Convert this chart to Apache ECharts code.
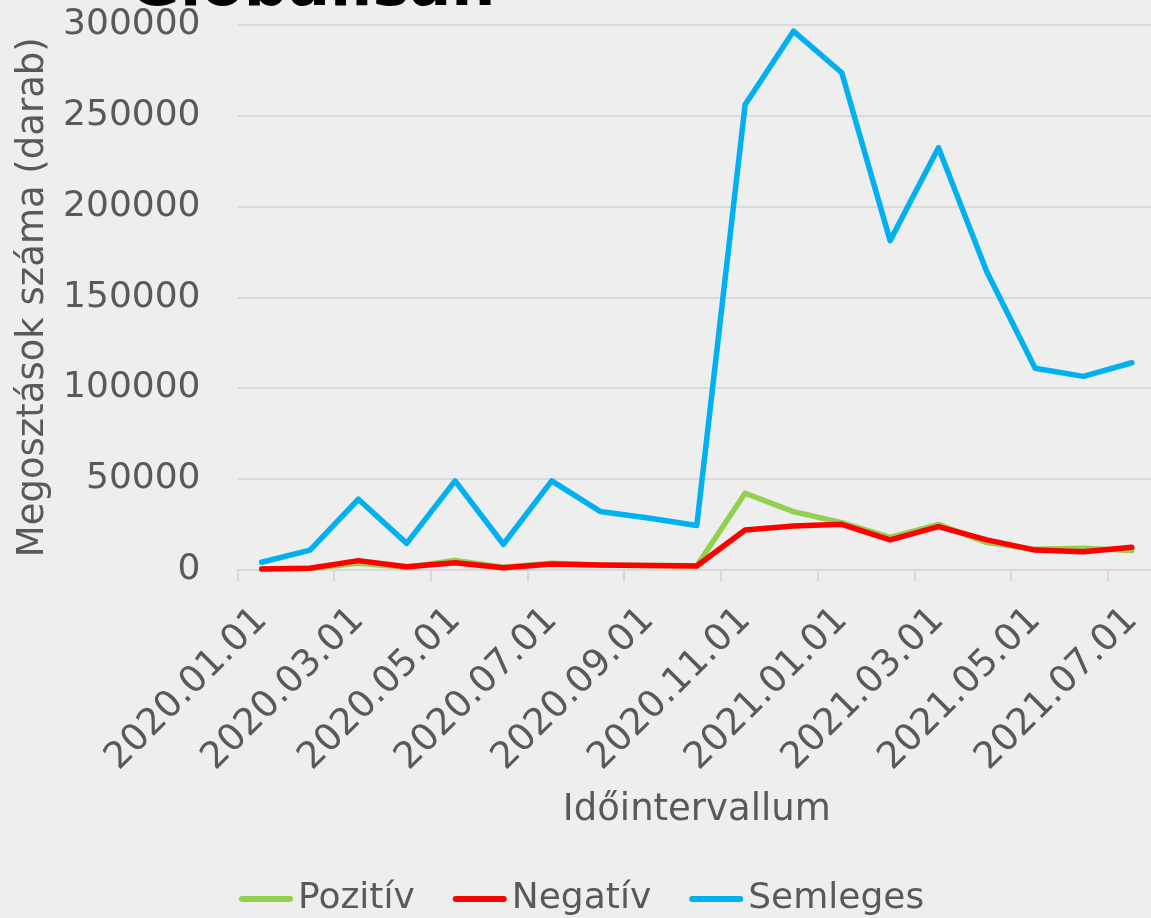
<!DOCTYPE html>
<html>
<head>
    <meta charset="utf-8">
    <title>Globálisan</title>
    <script src="https://cdn.jsdelivr.net/npm/echarts@6.0.0/dist/echarts.min.js"></script>
    <style>
        html, body { margin: 0; padding: 0; background: #eeeeee; }
    </style>
</head>
<body>

<div id="main" style="width: 1151px;height:918px;"></div>

<script type="text/javascript">
    // havi adatok
    var months = ['2020.01.01', '2020.02.01', '2020.03.01', '2020.04.01', '2020.05.01', '2020.06.01',
        '2020.07.01', '2020.08.01', '2020.09.01', '2020.10.01', '2020.11.01', '2020.12.01',
        '2021.01.01', '2021.02.01', '2021.03.01', '2021.04.01', '2021.05.01', '2021.06.01', '2021.07.01'];

    var pozitiv = [300, 700, 3500, 1200, 5000, 1300, 3500, 2500, 2200, 2000,
        42000, 31900, 25800, 17700, 24900, 14800, 11100, 11700, 10400];
    var negativ = [300, 700, 4900, 1500, 3700, 1000, 3000, 2500, 2200, 1900,
        21800, 24000, 24900, 16300, 23600, 16300, 10700, 9800, 12200];
    var semleges = [4000, 10700, 38700, 14400, 48800, 13900, 48800, 32000, 28400, 24200,
        256000, 296600, 273700, 181200, 232400, 164100, 110900, 106400, 113900];

    var textColor = '#595959';
    var gridColor = '#d9d9d9';
    var font = 'DejaVu Sans';

    var myChart = echarts.init(document.getElementById('main'));

    function lineSeries(name, color, data) {
        return {
            name: name,
            type: 'line',
            symbol: 'none',
            data: data,
            lineStyle: {color: color, width: 5.5, cap: 'round', join: 'round'},
            itemStyle: {color: color},
            animation: false
        };
    }

    var option = {
        backgroundColor: '#eeeeee',
        textStyle: {fontFamily: font},
        title: {
            text: 'Globálisan',
            left: 129,
            top: -42,
            padding: 0,
            textStyle: {fontFamily: font, fontSize: 62, fontWeight: 'bold', color: '#000000'}
        },
        legend: {
            left: 234,
            top: 876,
            itemWidth: 54,
            itemHeight: 14,
            itemGap: 38,
            // kerekített végű vonal ikon
            icon: 'path://M3,0 L51,0 A3,3 0 0 1 51,6 L3,6 A3,3 0 0 1 3,0 Z',
            textStyle: {fontFamily: font, fontSize: 36, color: textColor},
            data: ['Pozitív', 'Negatív', 'Semleges']
        },
        grid: {
            left: 237.5,
            right: -5,
            top: 25,
            bottom: 348.5,
            containLabel: false,
            outerBoundsMode: 'none'
        },
        xAxis: {
            type: 'category',
            data: months,
            boundaryGap: true,
            name: 'Időintervallum',
            nameLocation: 'middle',
            nameGap: 222,
            nameTextStyle: {fontFamily: font, fontSize: 37, color: textColor},
            axisLine: {lineStyle: {color: gridColor, width: 2}},
            axisTick: {show: true, interval: 1, length: 12, lineStyle: {color: gridColor, width: 2}},
            axisLabel: {
                interval: 1,
                rotate: 45,
                margin: 45,
                fontFamily: font,
                fontSize: 37,
                color: textColor
            }
        },
        yAxis: {
            type: 'value',
            min: 0,
            max: 300000,
            interval: 50000,
            name: 'Megosztások száma (darab)',
            nameLocation: 'middle',
            nameGap: 176,
            nameTextStyle: {fontFamily: font, fontSize: 37, color: textColor},
            axisLine: {show: false},
            axisTick: {show: false},
            axisLabel: {
                margin: 37,
                fontFamily: font,
                fontSize: 36,
                color: textColor,
                formatter: function (v) { return String(v); }
            },
            splitLine: {lineStyle: {color: gridColor, width: 2}}
        },
        series: [
            lineSeries('Pozitív', '#92d050', pozitiv),
            lineSeries('Negatív', '#ff0000', negativ),
            lineSeries('Semleges', '#00b0f0', semleges)
        ]
    };

    myChart.setOption(option);
</script>
</body>
</html>
